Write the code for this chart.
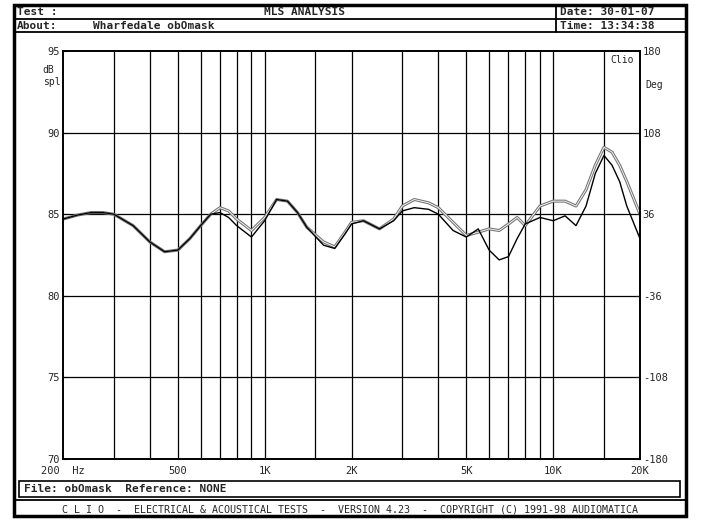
import numpy as np, pandas as pd, seaborn as sns, matplotlib
matplotlib.use("Agg")
import matplotlib.pyplot as plt
from matplotlib.patches import Rectangle

freq = [200,225,250,275,300,350,400,450,500,550,600,650,700,750,800,900,1000,1100,1200,1300,1400,1600,1750,1900,2000,2200,2500,2800,3000,3300,3700,4000,4500,5000,5500,6000,6500,7000,7500,8000,9000,10000,11000,12000,13000,14000,15000,16000,17000,18000,20000]
curve_a = [84.7,84.95,85.1,85.1,85.0,84.3,83.3,82.7,82.8,83.5,84.3,85.0,85.4,85.2,84.7,84.0,84.8,85.9,85.8,85.1,84.2,83.3,83.0,83.9,84.5,84.6,84.1,84.7,85.5,85.9,85.7,85.4,84.5,83.7,83.9,84.1,84.0,84.4,84.8,84.3,85.5,85.8,85.8,85.5,86.5,88.0,89.1,88.8,88.0,87.0,85.0]
curve_b = [84.7,84.95,85.1,85.1,85.0,84.3,83.3,82.7,82.8,83.5,84.3,85.0,85.1,84.8,84.3,83.6,84.6,85.9,85.8,85.1,84.2,83.1,82.9,83.8,84.4,84.6,84.1,84.6,85.2,85.4,85.3,85.0,84.0,83.6,84.1,82.8,82.2,82.4,83.5,84.4,84.8,84.6,84.9,84.3,85.5,87.5,88.6,88.0,87.0,85.5,83.5]
xticks = [200,500,1000,2000,5000,10000,20000]
xlabels = ["200  Hz","500","1K","2K","5K","10K","20K"]
grid_f = [300,400,500,600,700,800,900,1000,1500,2000,3000,4000,5000,6000,7000,8000,9000,10000,15000]
yticks = [70,75,80,85,90,95]
deg_labels = ["-180","-108","-36","36","108","180"]

sns.set_style("white")
plt.rcParams['font.family'] = ['DejaVu Sans Mono']
W,H = 705,528
fig = plt.figure(figsize=(W/100,H/100), dpi=100)
def fx(p): return p/W
def fy(p): return 1-p/H

fig.patches.append(Rectangle((fx(14),fy(516)), fx(686-14), (516-5)/H, transform=fig.transFigure, fill=False, lw=2.5, ec='black'))
for y in [19,32,500]:
    fig.lines.append(plt.Line2D([fx(14),fx(686)],[fy(y),fy(y)], transform=fig.transFigure, color='black', lw=1.3))
fig.lines.append(plt.Line2D([fx(556),fx(556)],[fy(5),fy(32)], transform=fig.transFigure, color='black', lw=1.3))
fig.patches.append(Rectangle((fx(19),fy(497)), fx(685-19-5), 16/H, transform=fig.transFigure, fill=False, lw=1.2, ec='black'))
kw = dict(fontsize=8, fontweight='bold', va='center')
fig.text(fx(17),fy(12),"Test :",**kw)
fig.text(fx(305),fy(12),"MLS ANALYSIS",ha='center',**kw)
fig.text(fx(17),fy(26),"About:",**kw)
fig.text(fx(93),fy(26),"Wharfedale obOmask",**kw)
fig.text(fx(560),fy(12),"Date: 30-01-07",**kw)
fig.text(fx(560),fy(26),"Time: 13:34:38",**kw)
fig.text(fx(24),fy(489),"File: obOmask  Reference: NONE",**kw)
fig.text(fx(350),fy(510),"C L I O  -  ELECTRICAL & ACOUSTICAL TESTS  -  VERSION 4.23  -  COPYRIGHT (C) 1991-98 AUDIOMATICA",ha='center',fontsize=7.2,va='center')

ax = fig.add_axes([fx(63), fy(459), fx(640-63), (459-51)/H])
ax.set_xscale('log')
ax.set_xlim(200,20000); ax.set_ylim(70,95)
for f in grid_f:
    ax.axvline(f, color='black', lw=0.9)
for y in [75,80,85,90]:
    ax.axhline(y, color='black', lw=0.9)
df = pd.DataFrame({"f":freq*2,"db":curve_a+curve_b,"c":["a"]*len(freq)+["b"]*len(freq)})
sns.lineplot(data=df[df.c=="a"], x="f", y="db", ax=ax, color='#777777', lw=2.2)
sns.lineplot(data=df[df.c=="a"], x="f", y="db", ax=ax, color='white', lw=0.6)
sns.lineplot(data=df[df.c=="b"], x="f", y="db", ax=ax, color='black', lw=1.0)
ax.set_xticks(xticks); ax.set_xticklabels(xlabels, fontsize=7.5)
ax.xaxis.set_minor_locator(matplotlib.ticker.NullLocator())
ax.set_yticks(yticks); ax.set_yticklabels([str(v) for v in yticks], fontsize=7.5)
ax.set_xlabel(""); ax.set_ylabel("")
ax.tick_params(axis='x', length=3, direction='in', pad=5)
ax.tick_params(axis='y', length=3, direction='in', pad=2)
ax2 = ax.twinx(); ax2.set_ylim(-180,180)
ax2.set_yticks([-180,-108,-36,36,108,180]); ax2.set_yticklabels(deg_labels, fontsize=7.5)
ax2.tick_params(length=3, direction='in', pad=2)
for s in list(ax.spines.values())+list(ax2.spines.values()):
    s.set_color('black'); s.set_linewidth(1.2)
ax.text(-0.035,0.965,"dB\nspl",transform=ax.transAxes,fontsize=7,ha='left',va='top')
ax.text(1.01,0.93,"Deg",transform=ax.transAxes,fontsize=7,ha='left',va='top')
ax.text(0.99,0.99,"Clio",transform=ax.transAxes,fontsize=7,ha='right',va='top')
fig.savefig("out.png", dpi=100)
